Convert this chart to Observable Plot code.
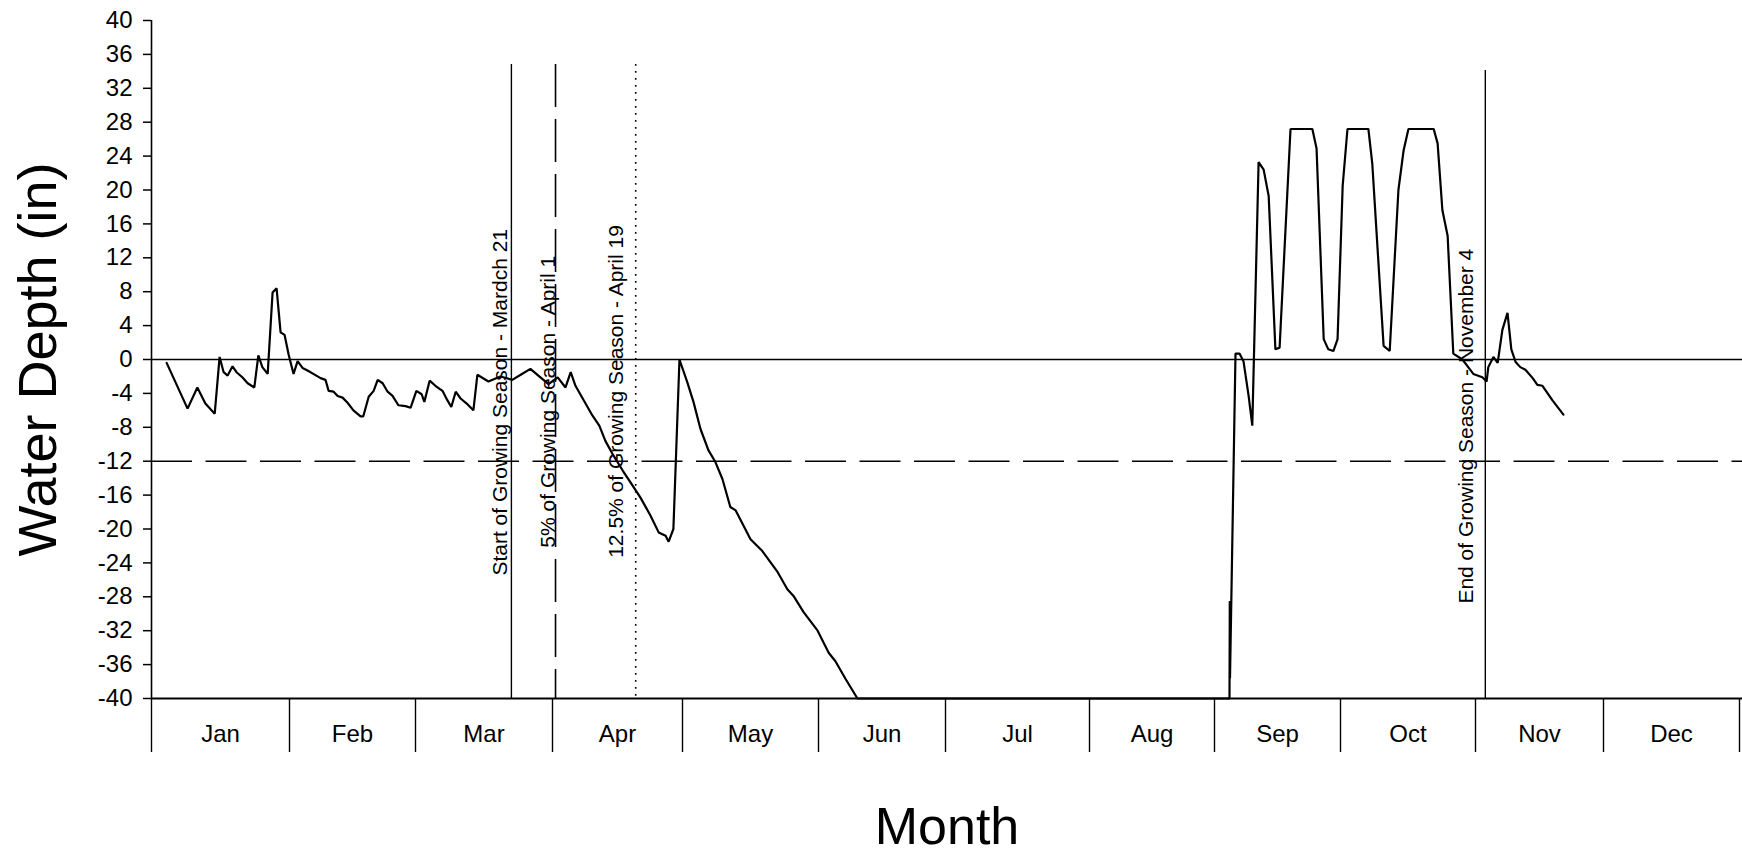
<!DOCTYPE html>
<html>
<head>
<meta charset="utf-8">
<script src="https://cdn.jsdelivr.net/npm/d3@7"></script>
<script src="https://cdn.jsdelivr.net/npm/@observablehq/plot@0.6"></script>
<style>
html, body { margin: 0; padding: 0; background: #fff; }
</style>
</head>
<body>
<div id="chart"></div>
<script>
// ---- data ----
const monthNames = ["Jan", "Feb", "Mar", "Apr", "May", "Jun", "Jul", "Aug", "Sep", "Oct", "Nov", "Dec"];
const monthStarts = [0, 31, 59, 90, 120, 151, 181, 212, 243, 273, 304, 334, 365];
const yTicks = [-40, -36, -32, -28, -24, -20, -16, -12, -8, -4, 0, 4, 8, 12, 16, 20, 24, 28, 32, 36, 40];

// day of year (0 = Jan 1) and water depth (in)
const days = [
  3.4, 8.1, 10.3, 12.1, 14.2, 15.3, 16.2, 17.1, 18.2, 19.1, 20.4, 21.6, 23.1, 24.0, 24.9, 26.1, 27.2, 28.1, 29.0, 29.9, 30.8,
  31.9, 32.8, 33.9, 35.0, 36.3, 37.9, 39.0, 39.7, 40.8, 41.7, 42.8, 43.9, 45.2, 46.8, 47.4, 48.6, 49.7, 50.6, 51.7, 52.8, 53.9, 55.2, 56.8, 57.9,
  59.2, 60.4, 61.0, 62.2, 63.5, 65.1, 66.2, 67.1, 68.1, 69.2, 70.8, 72.1, 73.0, 75.5, 78.2, 80.9, 82.8, 85.0, 86.8, 89.1,
  91.2, 93.0, 94.2, 95.3, 97.2, 99.2, 100.8, 102.2, 103.8, 106.2, 108.0, 110.3, 112.6, 114.5, 116.1, 116.8, 117.9, 119.3,
  121.1, 122.5, 124.1, 125.9, 127.5, 129.1, 130.9, 132.1, 135.5, 138.2, 141.7, 143.9, 145.3, 147.6, 150.8,
  153.4, 155.0, 157.4, 160.2,
  246.57, 246.64, 246.69, 248.0, 248.95, 249.9, 251.1, 252.0, 253.5, 254.7, 255.9, 257.5, 258.5, 261.1, 266.3, 267.3, 269.0, 270.1, 271.3, 272.3,
  273.5, 274.6, 279.4, 280.3, 282.9, 284.3, 286.3, 287.5, 288.6, 294.4, 295.3, 296.4, 297.6, 298.9, 301.0, 303.5,
  305.6, 306.6, 307.0, 308.2, 309.2, 310.3, 311.5, 312.4, 313.4, 314.5, 315.7, 317.4, 318.5, 319.7, 322.0, 324.6
];
const depth = [
  -0.4, -5.8, -3.3, -5.2, -6.4, 0.3, -1.5, -1.9, -0.8, -1.5, -2.1, -2.8, -3.3, 0.5, -0.9, -1.7, 7.9, 8.4, 3.2, 2.9, 0.6,
  -1.7, -0.2, -1.0, -1.3, -1.7, -2.2, -2.4, -3.7, -3.8, -4.3, -4.5, -5.1, -6.0, -6.7, -6.7, -4.4, -3.7, -2.4, -2.8, -3.8, -4.3, -5.4, -5.5, -5.7,
  -3.7, -4.1, -5.0, -2.5, -3.1, -3.7, -4.8, -5.6, -3.8, -4.6, -5.3, -6.0, -1.8, -2.6, -2.0, -2.4, -1.8, -1.1, -1.9, -2.9,
  -2.1, -3.3, -1.5, -3.1, -4.8, -6.6, -7.8, -9.6, -11.1, -13.1, -14.5, -16.3, -18.4, -20.4, -20.8, -21.5, -20.0, 0,
  -2.7, -5.0, -8.2, -10.7, -12.1, -14.1, -17.4, -17.8, -21.2, -22.6, -25.1, -27.1, -27.9, -29.8, -32.0,
  -34.6, -35.6, -37.7, -40,
  -40, -28.5, -37.6, 0.7, 0.7, -0.2, -4.2, -7.8, 23.3, 22.4, 19.3, 1.2, 1.4, 27.2, 27.2, 24.9, 2.4, 1.2, 1.0, 2.4,
  20.5, 27.2, 27.2, 23.1, 1.6, 1.0, 20.0, 24.7, 27.2, 27.2, 25.5, 17.6, 14.6, 0.7, 0, -1.7,
  -2.1, -2.6, -0.9, 0.3, -0.4, 3.5, 5.5, 1.2, -0.3, -0.9, -1.2, -2.2, -3.0, -3.1, -4.8, -6.5
];

const zeroLevel = [0];
const thresholdLevel = [-12];

// growing-season marker lines
const markerDays = [80.7, 90.7, 109.2, 306.3];
const markerTops = [34.8, 34.8, 34.8, 34.1];
const markerKinds = ["solid", "dashed", "dotted", "solid"];
const markerLabels = [
  "Start of Growing Season - Mardch 21",
  "5% of Growing Season - April 1",
  "12.5% of Growing Season - April 19",
  "End of Growing Season - November 4"
];
const labelDays = [79.6, 90.5, 106.2, 303.5];
const labelBottoms = [-25.5, -22.2, -23.4, -28.8];

// ---- build tables ----
const series = days.map((d, i) => ({day: d, depth: depth[i]}));
const markers = markerDays.map((d, i) => ({day: d, top: markerTops[i], kind: markerKinds[i]}));
const labels = markerLabels.map((t, i) => ({day: labelDays[i], y: labelBottoms[i], text: t}));
const monthMids = monthNames.map((_, i) => (monthStarts[i] + monthStarts[i + 1]) / 2);
const yMin = yTicks[0], yMax = yTicks[yTicks.length - 1];

const chart = Plot.plot({
  width: 1742,
  height: 857,
  marginLeft: 151,
  marginRight: 0,
  marginTop: 20,
  marginBottom: 159,
  style: {fontFamily: '"Liberation Sans", Arial, sans-serif', background: "#fff", color: "#000", overflow: "visible"},
  x: {type: "linear", domain: monthStarts, range: [151, 289, 415, 552, 682, 818, 945, 1089, 1214, 1340, 1475, 1603, 1739], axis: null},
  y: {domain: [yMin, yMax], axis: null},
  marks: [
    Plot.ruleY(zeroLevel, {stroke: "#000", strokeWidth: 1.4}),
    Plot.ruleY(thresholdLevel, {stroke: "#000", strokeWidth: 1.4, strokeDasharray: "41,13.5"}),
    Plot.ruleY([yMin], {stroke: "#000", strokeWidth: 1.8}),
    Plot.ruleX([monthStarts[0]], {y1: yMin, y2: yMax, stroke: "#000", strokeWidth: 1.6}),
    Plot.axisY({ticks: yTicks, tickSize: 8, tickPadding: 11, fontSize: 24, strokeWidth: 1.5,
      tickFormat: d => String(d), label: null, anchor: "left"}),
    Plot.axisX({ticks: monthStarts, tickSize: 54, tickFormat: () => "", strokeWidth: 1.4, label: null, anchor: "bottom"}),
    Plot.axisX({ticks: monthMids, tickSize: 0, tickPadding: 26, fontSize: 24,
      tickFormat: d => monthNames[monthMids.indexOf(d)], label: null, anchor: "bottom"}),
    Plot.ruleX(markers.filter(m => m.kind === "solid"), {x: "day", y1: "top", y2: yMin, stroke: "#000", strokeWidth: 1.4}),
    Plot.ruleX(markers.filter(m => m.kind === "dashed"), {x: "day", y1: "top", y2: yMin, stroke: "#000", strokeWidth: 1.6, strokeDasharray: "43,12"}),
    Plot.ruleX(markers.filter(m => m.kind === "dotted"), {x: "day", y1: "top", y2: yMin, stroke: "#000", strokeWidth: 1.6, strokeDasharray: "1.6,5.4"}),
    Plot.line(series, {x: "day", y: "depth", stroke: "#000", strokeWidth: 2.2, strokeLinejoin: "miter"}),
    Plot.text(labels, {x: "day", y: "y", text: "text", rotate: -90, textAnchor: "start", lineAnchor: "bottom", fontSize: 21, fill: "#000"}),
    Plot.text(["Water Depth (in)"], {frameAnchor: "left", rotate: -90, dx: -96, textAnchor: "middle", lineAnchor: "bottom", fontSize: 54, fill: "#000"}),
    Plot.text(["Month"], {frameAnchor: "bottom", dy: 145, textAnchor: "middle", lineAnchor: "bottom", fontSize: 52, fill: "#000"})
  ]
});
document.getElementById("chart").appendChild(chart);
</script>
</body>
</html>
